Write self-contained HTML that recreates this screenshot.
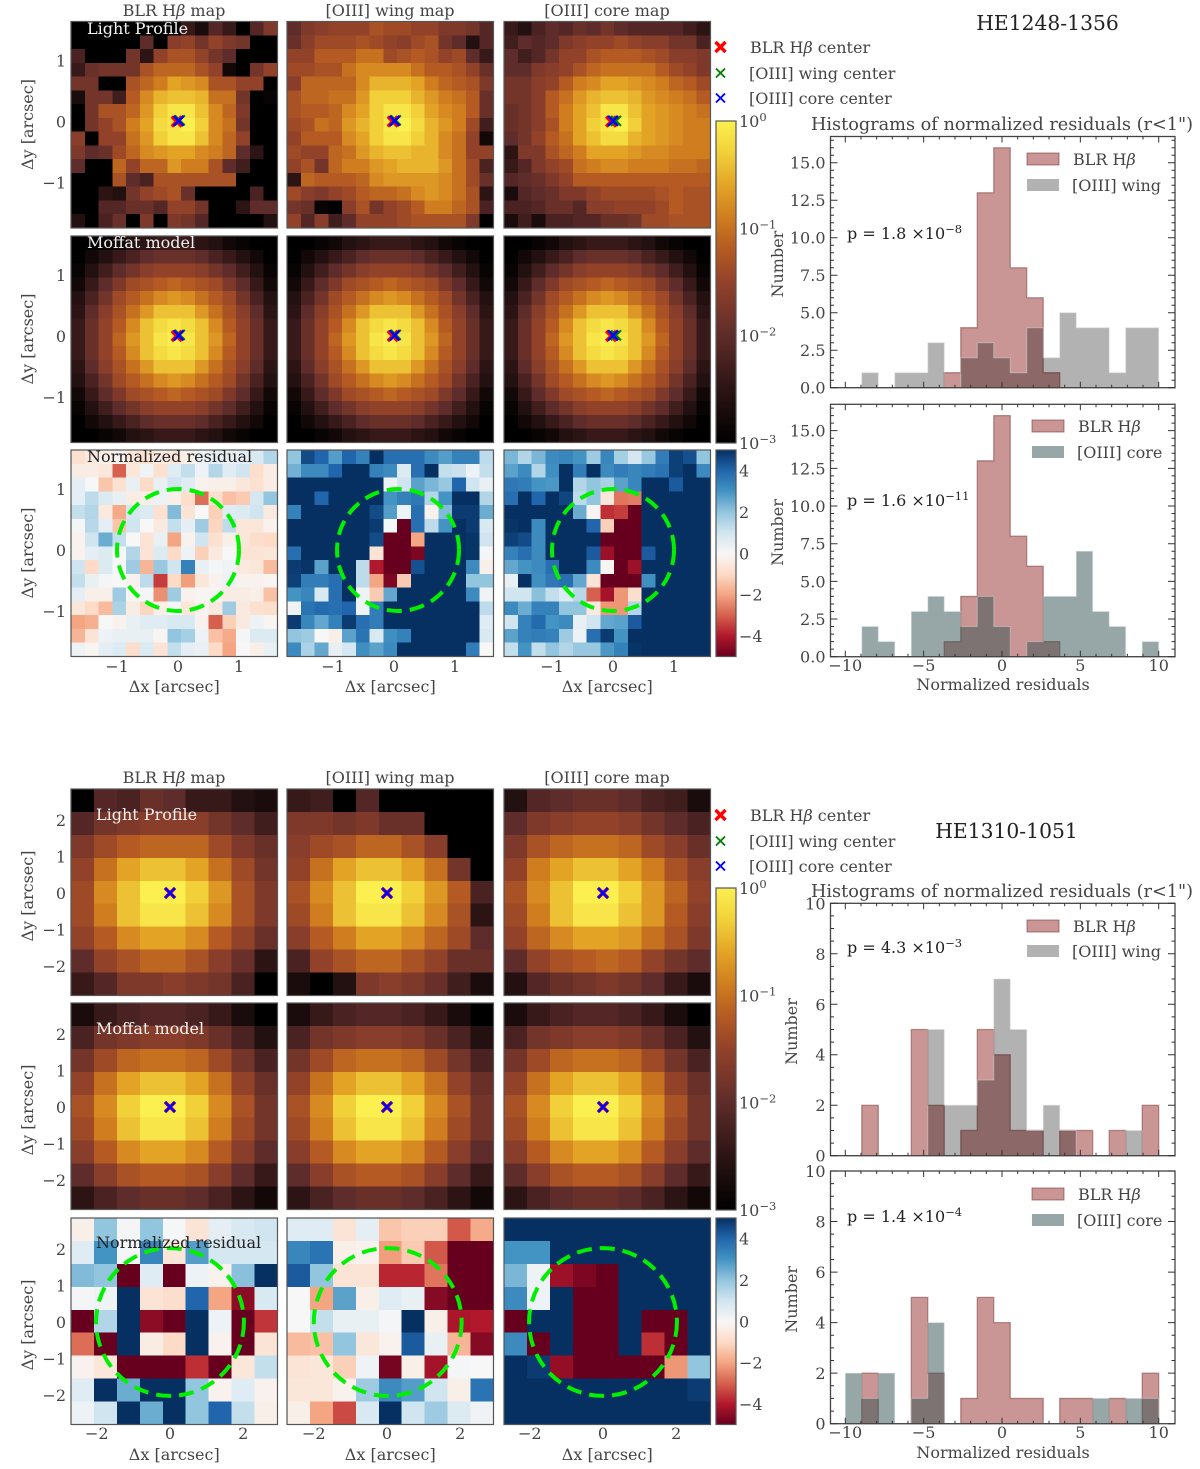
<!DOCTYPE html>
<html lang="en">
<head>
<meta charset="utf-8">
<title>HE1248-1356 and HE1310-1051 light profile maps and residual histograms</title>
<style>
  html, body { margin: 0; padding: 0; background: #fff; }
  svg { display: block; filter: blur(0.35px); }
  text { font-family: "DejaVu Serif", "Liberation Serif", serif; fill: #444; font-size: 16px; }
  .cell { shape-rendering: crispEdges; }
  .dark { fill: #222; }
</style>
</head>
<body>
<svg id="figure" xmlns="http://www.w3.org/2000/svg" width="1200" height="1469" viewBox="0 0 1200 1469">
  <rect width="1200" height="1469" fill="#fff"/>
  <defs id="defs"></defs>

  <g>
    <text x="174" y="16" text-anchor="middle">BLR H<tspan font-style="italic">β</tspan> map</text>
    <text x="390" y="16" text-anchor="middle">[OIII] wing map</text>
    <text x="607" y="16" text-anchor="middle">[OIII] core map</text>
    <text x="1047.5" y="30" text-anchor="middle" class="dark" style="font-size:20.3px">HE1248-1356</text>
    <text x="1002" y="130" text-anchor="middle" style="font-size:17.7px">Histograms of normalized residuals (r&lt;1")</text>
  </g>
  <g>
    <text x="174" y="783" text-anchor="middle">BLR H<tspan font-style="italic">β</tspan> map</text>
    <text x="390" y="783" text-anchor="middle">[OIII] wing map</text>
    <text x="607" y="783" text-anchor="middle">[OIII] core map</text>
    <text x="1006.5" y="838" text-anchor="middle" class="dark" style="font-size:20.3px">HE1310-1051</text>
    <text x="1002" y="897" text-anchor="middle" style="font-size:17.7px">Histograms of normalized residuals (r&lt;1")</text>
  </g>

  <g id="heatmaps"></g>
  <g id="colorbars"></g>
  <g id="histograms"></g>
  <g id="annotations"></g>
</svg>

<script>
/* ---------- flux maps: log10(flux) x 10, 0 = peak, -30 = floor ---------- */
const blrMapA = [
[-30,-30,-30,-30,-30,-30,-30,-30,-24,-27,-21,-24,-30,-21,-17],
[-30,-30,-30,-30,-30,-20,-30,-16,-15,-18,-15,-17,-18,-30,-30],
[-22,-30,-30,-30,-18,-25,-15,-13,-13,-15,-18,-20,-30,-30,-30],
[-24,-19,-18,-18,-18,-13,-11,-11,-11,-13,-15,-28,-30,-18,-15],
[-18,-18,-30,-30,-13,-11,-9,-6,-7,-8,-13,-13,-15,-15,-30],
[-27,-18,-18,-23,-12,-8,-5,-4,-4,-5,-10,-10,-18,-30,-29],
[-30,-18,-13,-13,-11,-7,-3,-1,-1,-4,-8,-11,-17,-30,-30],
[-30,-18,-15,-13,-9,-6,-2,-1,0,-3,-8,-10,-18,-30,-30],
[-16,-30,-15,-15,-10,-7,-3,-1,-1,-4,-8,-11,-15,-30,-30],
[-17,-20,-19,-14,-11,-8,-7,-6,-6,-8,-9,-11,-20,-25,-30],
[-20,-30,-30,-11,-15,-11,-11,-7,-9,-9,-13,-20,-23,-30,-30],
[-30,-30,-30,-13,-20,-22,-13,-13,-13,-13,-13,-13,-30,-30,-30],
[-30,-30,-25,-26,-18,-15,-14,-13,-19,-30,-30,-30,-30,-22,-30],
[-30,-30,-21,-21,-19,-19,-21,-15,-15,-18,-30,-30,-25,-20,-20],
[-26,-30,-22,-19,-30,-17,-30,-17,-18,-21,-30,-30,-30,-30,-26]];
const wingMapA = [
[-20,-17,-16,-15,-15,-15,-13,-14,-14,-15,-15,-17,-17,-18,-21],
[-19,-16,-14,-14,-14,-13,-14,-15,-16,-14,-13,-18,-20,-26,-21],
[-15,-15,-12,-12,-12,-10,-10,-14,-13,-12,-13,-15,-14,-20,-24],
[-14,-14,-13,-13,-10,-8,-8,-8,-8,-10,-12,-12,-13,-15,-19],
[-16,-11,-11,-11,-11,-8,-5,-5,-5,-6,-9,-11,-12,-13,-17],
[-13,-11,-11,-10,-10,-7,-3,-3,-3,-5,-7,-9,-10,-12,-19],
[-13,-12,-12,-11,-8,-6,-3,-1,-1,-3,-6,-8,-9,-12,-19],
[-14,-13,-10,-11,-7,-5,-3,-0.5,0,-2,-5,-7,-9,-14,-23],
[-15,-12,-12,-12,-8,-6,-3,-1,-1,-3,-5,-8,-10,-15,-28],
[-14,-15,-15,-11,-10,-7,-5,-4,-4,-5,-5,-8,-10,-15,-15],
[-15,-13,-18,-11,-9,-9,-7,-6,-5,-5,-5,-7,-10,-14,-22],
[-25,-11,-12,-12,-12,-11,-8,-7,-7,-7,-7,-8,-10,-14,-19],
[-14,-16,-17,-15,-14,-12,-11,-11,-10,-8,-7,-8,-10,-13,-25],
[-18,-19,-29,-30,-16,-13,-18,-15,-14,-12,-9,-9,-11,-13,-22],
[-15,-21,-16,-23,-20,-15,-15,-15,-14,-13,-13,-13,-13,-17,-30]];
const coreMapA = [
[-24,-26,-22,-20,-21,-19,-20,-18,-20,-21,-21,-21,-21,-23,-25],
[-23,-20,-21,-20,-17,-16,-15,-15,-14,-15,-16,-16,-18,-18,-22],
[-20,-23,-21,-18,-15,-15,-13,-12,-12,-12,-13,-14,-16,-16,-17],
[-20,-20,-17,-16,-15,-13,-11,-10,-10,-10,-10,-12,-14,-15,-17],
[-18,-18,-16,-15,-12,-9,-8,-6,-6,-7,-8,-9,-11,-12,-14],
[-18,-18,-16,-12,-10,-7,-5,-4,-4,-5,-7,-8,-9,-10,-12],
[-19,-18,-16,-12,-9,-6,-4,-1,-1,-4,-6,-7,-8,-9,-10],
[-19,-18,-16,-13,-9,-6,-3,-1,0,-3,-6,-7,-8,-9,-9],
[-20,-18,-15,-12,-10,-6,-4,-2,-2,-5,-6,-7,-8,-9,-9],
[-25,-17,-17,-13,-11,-9,-6,-6,-6,-7,-8,-8,-9,-9,-9],
[-24,-21,-17,-15,-14,-10,-9,-8,-8,-9,-9,-9,-10,-10,-11],
[-21,-20,-19,-17,-15,-12,-12,-12,-12,-12,-12,-12,-12,-12,-12],
[-27,-21,-20,-19,-17,-17,-15,-14,-14,-14,-14,-13,-12,-13,-13],
[-22,-22,-21,-19,-19,-21,-16,-16,-15,-15,-15,-14,-12,-13,-13],
[-27,-23,-27,-22,-22,-21,-21,-19,-19,-18,-14,-14,-13,-13,-13]];
const moffatMapA = [
[-30,-30,-29,-28,-26,-25,-24,-24,-24,-25,-26,-28,-29,-30,-30],
[-30,-28,-26,-24,-22,-20,-19,-19,-19,-20,-22,-24,-26,-28,-30],
[-29,-26,-23,-20,-18,-16,-15,-15,-15,-16,-18,-20,-23,-26,-29],
[-28,-24,-20,-17,-14,-13,-12,-11,-12,-13,-14,-17,-20,-24,-28],
[-26,-22,-18,-14,-12,-10,-8,-7,-8,-10,-12,-14,-18,-22,-26],
[-25,-20,-16,-13,-10,-7,-4,-4,-4,-7,-10,-13,-16,-20,-25],
[-24,-19,-15,-12,-8,-4,-2,-1,-2,-4,-8,-12,-15,-19,-24],
[-24,-19,-15,-11,-7,-4,-1,0,-1,-4,-7,-11,-15,-19,-24],
[-24,-19,-15,-12,-8,-4,-2,-1,-2,-4,-8,-12,-15,-19,-24],
[-25,-20,-16,-13,-10,-7,-4,-4,-4,-7,-10,-13,-16,-20,-25],
[-26,-22,-18,-14,-12,-10,-8,-7,-8,-10,-12,-14,-18,-22,-26],
[-28,-24,-20,-17,-14,-13,-12,-11,-12,-13,-14,-17,-20,-24,-28],
[-29,-26,-23,-20,-18,-16,-15,-15,-15,-16,-18,-20,-23,-26,-29],
[-30,-28,-26,-24,-22,-20,-19,-19,-19,-20,-22,-24,-26,-28,-30],
[-30,-30,-29,-28,-26,-25,-24,-24,-24,-25,-26,-28,-29,-30,-30]];

const blrMapB = [
[-30,-21,-22,-19,-20,-24,-24,-26,-27],
[-21,-18,-17,-16,-16,-16,-18,-20,-23],
[-17,-14,-12,-11,-11,-11,-14,-17,-19],
[-15,-10,-6,-4,-4,-6,-10,-14,-18],
[-14,-8,-4,0,0,-3,-7,-13,-17],
[-14,-9,-4,-1,-1,-4,-8,-13,-17],
[-15,-12,-8,-6,-6,-8,-12,-15,-19],
[-20,-15,-13,-11,-11,-13,-16,-19,-25],
[-24,-21,-17,-17,-16,-17,-18,-22,-30]];
const wingMapB = [
[-24,-23,-30,-21,-30,-30,-30,-30,-30],
[-17,-17,-18,-17,-19,-19,-30,-30,-30],
[-16,-14,-13,-11,-11,-13,-16,-30,-30],
[-15,-10,-6,-4,-4,-6,-10,-18,-30],
[-13,-8,-4,0,0,-3,-7,-12,-22],
[-14,-9,-4,-1,-1,-4,-8,-13,-25],
[-16,-12,-9,-6,-6,-8,-11,-14,-20],
[-22,-15,-13,-11,-11,-13,-15,-19,-19],
[-27,-30,-26,-17,-16,-17,-19,-23,-27]];
const coreMapB = [
[-26,-21,-20,-19,-19,-20,-22,-23,-27],
[-20,-17,-16,-15,-15,-16,-18,-20,-22],
[-17,-13,-11,-10,-10,-11,-14,-16,-19],
[-15,-9,-6,-4,-4,-6,-9,-13,-16],
[-13,-8,-4,0,0,-3,-7,-11,-15],
[-14,-9,-4,-1,-1,-4,-7,-12,-16],
[-15,-11,-8,-6,-6,-7,-10,-13,-17],
[-20,-15,-13,-12,-11,-12,-15,-18,-20],
[-26,-21,-19,-18,-17,-18,-20,-24,-27]];
const moffatMapB = [
[-27,-24,-22,-21,-21,-22,-24,-27,-30],
[-22,-18,-17,-16,-16,-17,-19,-22,-26],
[-18,-14,-11,-10,-10,-11,-14,-18,-22],
[-15,-10,-6,-4,-4,-6,-10,-15,-19],
[-13,-8,-3,0,0,-3,-8,-13,-18],
[-14,-9,-4,-1,-1,-4,-9,-14,-18],
[-16,-12,-8,-6,-6,-8,-12,-16,-20],
[-20,-16,-13,-12,-12,-13,-16,-20,-24],
[-25,-22,-20,-19,-19,-20,-22,-25,-28]];

/* ---------- normalized residual maps (clipped at +/-5) ---------- */
const blrResidA = [
[-0.8,-0.5,-0.3,-0.2,-0.6,-0.8,-0.4,-0.6,-0.3,0.3,0.5,0.4,0.5,0.8,1.5],
[-0.4,-0.4,-0.6,-3,-0.6,0.2,-0.8,0.6,1.2,0.3,1.5,0.6,1,-0.9,-0.4],
[0.5,0,-1.4,-0.8,0.4,-1,0.4,1,0.6,-0.2,-0.3,-0.3,-0.6,-0.8,-0.4],
[0.5,1.3,0.7,0.4,-0.4,-0.3,0.3,-0.3,-0.9,-2.8,-0.9,-1.5,-1.3,0.9,2],
[1.2,1.5,-0.5,-1.9,0.9,0.7,-0.8,2.2,-0.7,0,-1.2,0.6,0.7,1,-0.5],
[0.1,1.4,0.5,-1.4,1,0,-0.5,1.2,0.5,1.8,-1.1,1.3,-0.6,-0.6,-0.2],
[-0.2,1,2.5,1.2,0,-0.7,0.4,-2,-0.2,1,-0.8,-0.3,-0.6,-0.9,-1],
[-0.2,0.5,0.7,0,1.5,-0.7,0.7,-1,0.3,-1.2,-0.5,0,-0.7,-0.7,-0.6],
[1,-1,0.7,0,1.8,-1.7,1.9,1,3.4,0.4,0.1,0.2,-0.5,-0.6,-1.6],
[1.2,0.4,0.1,0,-0.2,1.3,-3.5,-1,-2.1,-0.6,-0.2,0.3,-0.2,-0.2,-0.1],
[0.5,-0.3,-0.3,1.8,-0.1,0.1,-2.3,1.8,-0.2,-0.1,-0.1,-0.4,-0.4,-0.3,-1.5],
[-0.6,-1,-1.6,1.6,-0.4,-1.1,-0.3,0.1,-0.6,-0.2,-0.5,1.8,-0.5,-0.8,-0.9],
[-2,-1.8,0,-0.2,0.4,0.6,0.6,0.8,0.8,-0.2,-3,-1.2,-0.5,0.3,-0.1],
[-1.7,-0.7,0.3,0.4,0.4,0.4,-0.1,2,1.7,0.3,-1.5,-1.9,0.1,0.7,0.7],
[0.3,-0.1,0.5,0.7,-0.9,0.7,-0.7,1.2,0.5,0.4,-1,-2,0,-0.3,0.4]];
const wingResidA = [
[2,4.5,4,2.8,4,3.4,5,3.8,3.8,3.8,3.2,2.8,3.4,3.4,1.3],
[2.4,3.2,3.2,4,5,5,3.4,3.2,0.7,3.8,5,1.2,1.1,0.3,1.2],
[5,5,5,5,5,5,5,0.3,1,2.7,2.3,1.9,4,1,0.4],
[5,5,4,5,5,5,5,3,3.4,3.6,1.5,3,5,5,1.5],
[3.4,5,5,5,5,5,4.5,2.8,0.3,3.8,-0.2,2.2,4.8,4.8,2.5],
[5,5,5,5,5,5,4.8,0.05,-5,3.8,1.3,3,5,4.8,0.8],
[5,5,5,5,5,5,4.5,-5,-5,-2,5,5,5,4.9,1],
[3.8,5,5,5,5,5,-0.7,-5,-5,-4.7,5,5,5,4.9,0.1],
[4.8,4.9,2.7,5,5,1.3,-4,-5,-5,4.4,5,5,5,3.2,-0.3],
[4.7,3.5,3.5,3.8,5,1.3,-2,-4.7,-1.3,5,5,5,5,2,2],
[3,3.3,0.8,3.8,5,0.2,-1.3,2.6,5,5,5,5,5,3.2,0.2],
[0.2,3.7,3.9,3.8,4,0.2,3.5,5,5,5,5,5,5,5,1.3],
[4.8,3.3,2.6,3.4,4.8,3.8,3.5,5,5,5,5,5,5,5,0.6],
[2,1.8,0,-0.3,2.7,3.7,0.8,3.1,3.4,5,5,5,5,5,0.8],
[3.2,1.6,2.6,0.4,0.9,3.1,2.7,3.2,5,5,5,5,5,3.5,0]];
const coreResidA = [
[2.3,1.5,2.3,3.2,3.3,3,1.8,3.3,1.7,0.9,1.9,3.5,4.7,4.4,2],
[2.7,3.2,1.5,3.1,5,3.5,5,3.2,3.5,3.3,3.5,3.7,4.7,5,3.2],
[3.6,3.5,3,2.9,5,1.5,2,1.6,2.7,3.3,5,5,4.2,5,5],
[3.8,5,4,5,4.6,1.3,2,-0.6,-2.7,-2.6,5,5,5,5,5],
[5,5,5,5,5,2.5,-0.1,-3.7,-3.5,-5,5,5,5,5,5],
[4.9,5,3.2,5,5,5,4,-1.2,-5,-5,5,5,5,5,5],
[4.7,4.5,3.2,5,5,5,5,-5,-5,-5,5,5,5,5,5],
[3.4,3.8,3.2,5,5,5,4.2,-4.3,-5,-5,4.2,5,5,5,5],
[2.6,3,3.2,3.8,5,5,3.2,-0.1,-5,-4.3,5,5,5,5,5],
[0.4,5,3.1,3.6,3.8,2.6,-0.7,-5,-5,-5,3.1,5,5,5,5],
[1,1,2.1,1.2,0.7,1.4,-3,-4.2,-2.2,-0.9,5,5,5,5,5],
[3.2,2.5,3.4,3.4,2,2,-0.5,-2.2,-2.2,1.5,5,5,5,5,5],
[1,3.4,3.9,3,3.2,0.4,1,2.6,2.7,4.2,5,5,5,5,5],
[2.7,3.4,3.5,3.4,1.8,0.3,3.8,4.8,3,5,5,5,5,5,5],
[1.2,3,1.2,2,1.5,1.9,1.9,2.9,3.4,4.9,5,5,5,5,5]];
const blrResidB = [
[-0.3,2,0.1,2,0.05,-0.7,0.5,0.8,1],
[0.6,3,0.1,3.3,-0.6,2.8,0.9,0.9,0.9],
[2.2,2,-5,0.6,-5,0.3,-0.2,2.1,5],
[0.1,0.2,5,-0.7,-0.9,4,-2,-4.5,0.8],
[-5,1.5,5,-4.5,-5,5,0.3,-5,-3.6],
[-2.8,-5,5,-0.4,-1,5,-0.2,-5,-0.7],
[-0.2,-0.6,-5,-5,-5,-3.7,-5,-0.6,1.2],
[0.6,5,2.5,5,5,2,-0.2,0.6,-0.2],
[0.3,1,5,2.5,5,2,4,1.2,-0.3]];
const wingResidB = [
[0.6,0.6,-0.7,0.5,-1.4,-1.2,-1.2,-3.1,-1.9],
[3.3,3.7,-0.3,-0.2,-2.1,-1.3,-3.1,-5,-5],
[4.2,2,-0.7,-0.7,-3.8,-3.8,-2.7,-5,-5],
[0,-2,2.7,-0.3,0.6,0.4,-4.6,-5,-5],
[0,1.2,0.4,0.4,0.1,5,-0.3,-4.1,-4],
[-1.6,-1.5,2,-0.6,-0.2,4.2,0.4,-1.7,-4.6],
[-0.7,-0.6,-1.2,0.2,-4.8,-0.3,-4.2,0.1,0],
[-0.6,-0.6,-0.2,1.8,3.2,2.8,1,-0.3,3.7],
[-0.3,-2,-3.3,0.8,5,1,1.8,0.7,0.2]];
const coreResidB = [
[5,5,5,5,5,5,5,5,5],
[3,3,5,5,5,5,5,5,5],
[2.3,0.3,-4.3,-4.7,-5,5,5,5,5],
[3.2,0.3,5,-5,-5,5,5,5,5],
[-5,5,5,-5,-5,5,-5,-5,5],
[3.2,-5,5,-5,-5,5,-3.7,-5,5],
[5,4.8,-4.4,-5,-5,-5,-5,-2.2,2],
[5,5,5,5,5,5,5,5,4.8],
[5,5,5,5,5,5,5,5,5]];

/* ---------- histogram counts (19 bins from -10 to 10) ---------- */
const histBlrA  = [0,0,0,0,0,0,1,4,13,16,8,6,1,0,0,0,0,0,0];
const histWingA = [0,1,0,1,1,3,0,2,3,2,1,4,2,5,4,4,1,4,4];
const histCoreA = [0,2,1,0,3,4,3,2,4,2,0,1,4,4,7,3,2,0,1];
const histBlrB  = [0,2,0,0,5,2,0,1,5,4,1,1,0,1,1,0,1,0,2];
const histWingB = [0,0,0,0,0,5,2,2,3,7,5,1,2,1,0,0,0,1,0];
const histCoreB = [2,1,2,0,1,4,0,0,0,0,0,0,0,0,0,1,0,1,1];

/* ---------- tick values and labels ---------- */
const mapTicksA = [-1, 0, 1];
const mapTicksB = [-2, -1, 0, 1, 2];
const mapXTicksB = [-2, 0, 2];
const histXTicks = [-10, -5, 0, 5, 10];
const histYTicksA = [0, 2.5, 5, 7.5, 10, 12.5, 15];
const histYLabelsA = ['0.0', '2.5', '5.0', '7.5', '10.0', '12.5', '15.0'];
const histYTicksB = [0, 2, 4, 6, 8, 10];
const histYLabelsB = ['0', '2', '4', '6', '8', '10'];
const residCbarTicks = [-4, -2, 0, 2, 4];
const fluxCbarTicks = [0, -1, -2, -3];

/* ---------- fitted centres, arcsec ---------- */
const centersA = [[-0.02, 0, 0.03, 0.02, 0.01, 0.01], [-0.02, 0, 0.03, 0.02, 0.01, 0.01], [-0.03, 0, 0.05, 0.01, 0, 0.01]];
const centersB = [[0, 0, 0, 0, 0, 0], [0, 0, 0, 0, 0, 0], [0, 0, 0, 0, 0, 0]];
const apertureA = [0, 0.066, 0];
const apertureB = [0, 0.02, 0];
const apertureRadiusA = 1;
const apertureRadiusB = 2.02;

/* ---------- figure layout ---------- */
const SVGNS = 'http://www.w3.org/2000/svg';
const heatRoot = document.getElementById('heatmaps');
const cbarRoot = document.getElementById('colorbars');
const histRoot = document.getElementById('histograms');
const noteRoot = document.getElementById('annotations');
const defsRoot = document.getElementById('defs');

const fluxStops = [[-30,'#000000'],[-25,'#2c1414'],[-20,'#5e2c2a'],[-15,'#93422a'],[-12,'#b45a22'],[-9,'#cf7d1f'],[-6,'#e3a426'],[-3,'#f1d03a'],[0,'#fbf050']];
const residStops = [[-5,'#67001f'],[-4,'#b2182b'],[-3,'#d6604d'],[-2,'#f4a582'],[-1,'#fddbc7'],[0,'#f7f7f7'],[1,'#d1e5f0'],[2,'#92c5de'],[3,'#4393c3'],[4,'#2166ac'],[5,'#053061']];

function hexRgb(h) { return [1, 3, 5].map(function (i) { return parseInt(h.substr(i, 2), 16); }); }
function colormap(stops, v) {
  if (v <= stops[0][0]) return stops[0][1];
  for (let i = 1; i < stops.length; i++) {
    if (v <= stops[i][0]) {
      const t = (v - stops[i - 1][0]) / (stops[i][0] - stops[i - 1][0]);
      const a = hexRgb(stops[i - 1][1]), b = hexRgb(stops[i][1]);
      return 'rgb(' + a.map(function (c, k) { return Math.round(c + (b[k] - c) * t); }).join(',') + ')';
    }
  }
  return stops[stops.length - 1][1];
}
function mk(parent, tag) {
  const el = document.createElementNS(SVGNS, tag);
  parent.appendChild(el);
  return el;
}
function put(el, props) {
  Object.keys(props).forEach(function (k) { el.setAttribute(k, props[k]); });
  return el;
}
function label(parent, x, y, str, anchor, rotate) {
  const t = mk(parent, 'text');
  put(t, { x: x, y: y, 'text-anchor': anchor || 'middle' });
  if (rotate) t.setAttribute('transform', 'rotate(-90 ' + x + ' ' + y + ')');
  t.textContent = str;
  return t;
}
function num(v) { return String(v).replace('-', '\u2212'); }

const blockA = {
  colX: [71, 287, 504], zeroX: [178, 394, 613],
  rowY: [21.5, 236, 450], zeroY: [121.5, 336, 550],
  size: 206.5, scale: 61,
  yTicks: mapTicksA, xTicks: mapTicksA,
  maps: [[blrMapA, wingMapA, coreMapA], [moffatMapA, moffatMapA, moffatMapA], [blrResidA, wingResidA, coreResidA]],
  centers: centersA, aperture: apertureA, radius: apertureRadiusA,
  xTickBase: 672, xLabelBase: 692, labelX: 87, labelBase: [34, 248, 462],
  cbarFlux: [121, 443], cbarResid: [450, 656.5],
  legendY: [47, 73, 98]
};
const blockB = {
  colX: [71, 287, 504], zeroX: [170, 387, 603],
  rowY: [789, 1003, 1218], zeroY: [893, 1107, 1322],
  size: 206.5, scale: 36.6,
  yTicks: mapTicksB, xTicks: mapXTicksB,
  maps: [[blrMapB, wingMapB, coreMapB], [moffatMapB, moffatMapB, moffatMapB], [blrResidB, wingResidB, coreResidB]],
  centers: centersB, aperture: apertureB, radius: apertureRadiusB,
  xTickBase: 1439, xLabelBase: 1460, labelX: 96, labelBase: [820, 1034, 1248],
  cbarFlux: [888, 1210], cbarResid: [1218, 1424.5],
  legendY: [815, 841, 866]
};
const panelTexts = [['Light Profile', '#f2f2f2'], ['Moffat model', '#f2f2f2'], ['Normalized residual', '#222']];

function drawBlock(b) {
  b.rowY.forEach(function (rowTop, r) {
    b.colX.forEach(function (colLeft, c) {
      const matrix = b.maps[r][c];
      const n = matrix.length;
      const cell = b.size / n;
      const isResid = r === 2;
      const g = mk(heatRoot, 'g');
      
      
      matrix.forEach(function (row, i) {
        row.forEach(function (v, j) {
          const rc = mk(g, 'rect');
          put(rc, {
            class: 'cell',
            x: (colLeft + j * cell).toFixed(2), y: (rowTop + i * cell).toFixed(2),
            width: (cell + 0.3).toFixed(2), height: (cell + 0.3).toFixed(2),
            fill: isResid ? colormap(residStops, v) : colormap(fluxStops, v)
          });
          
          
        });
      });
      const frame = mk(g, 'rect');
      put(frame, { x: colLeft, y: rowTop, width: b.size, height: b.size, fill: 'none', stroke: '#555', 'stroke-width': 1.2 });
      
      

      const xOf = function (v) { return b.zeroX[c] + v * b.scale; };
      const yOf = function (v) { return b.zeroY[r] - v * b.scale; };

      if (isResid) {
        const ap = mk(g, 'circle');
        put(ap, { cx: xOf(b.aperture[c]), cy: yOf(0), r: b.radius * b.scale, fill: 'none', stroke: '#00f000', 'stroke-width': 4, 'stroke-dasharray': '15 8' });
        
        
      } else {
        const m = b.centers[c];
        [[m[0], m[1], '#ff0000', 3.4], [m[2], m[3], '#008000', 2], [m[4], m[5], '#0000ff', 2.6]].forEach(function (d) {
          const cx = xOf(d[0]), cy = yOf(d[1]);
          const mark = mk(g, 'path');
          put(mark, { d: 'M' + (cx - 5) + ' ' + (cy - 5) + 'L' + (cx + 5) + ' ' + (cy + 5) + 'M' + (cx - 5) + ' ' + (cy + 5) + 'L' + (cx + 5) + ' ' + (cy - 5), stroke: d[2], 'stroke-width': d[3], fill: 'none' });
          
          
        });
      }

      if (c === 0) {
        b.yTicks.forEach(function (v) {
          const t = label(g, 66, yOf(v) + 6, num(v), 'end');
          
          
        });
        const yl = label(g, 33, b.zeroY[r] + 3, '\u0394y [arcsec]', 'middle', true);
        
        
        const pt = label(g, b.labelX, b.labelBase[r], panelTexts[r][0], 'start');
        pt.style.fill = panelTexts[r][1];
        
        
      }
      if (isResid) {
        b.xTicks.forEach(function (v) {
          const t = label(g, xOf(v), b.xTickBase, num(v));
          
          
        });
        const xl = label(g, colLeft + b.size / 2, b.xLabelBase, '\u0394x [arcsec]');
        
        
      }
    });
  });
  drawColorbars(b);
  drawLegend(b);
}

function gradient(id, stops, lo, hi) {
  const gr = mk(defsRoot, 'linearGradient');
  put(gr, { id: id, x1: 0, y1: 1, x2: 0, y2: 0 });
  stops.forEach(function (s) {
    const st = mk(gr, 'stop');
    put(st, { offset: (s[0] - lo) / (hi - lo), 'stop-color': s[1] });
  });
}
gradient('fluxGrad', fluxStops, -30, 0);
gradient('residGrad', residStops, -5, 5);

function drawColorbars(b) {
  const x = 716, w = 20;
  const fy = b.cbarFlux, ry = b.cbarResid;
  const fBar = mk(cbarRoot, 'rect');
  put(fBar, { x: x, y: fy[0], width: w, height: fy[1] - fy[0], fill: 'url(#fluxGrad)', stroke: '#555', 'stroke-width': 1.2 });
  
  
  const rBar = mk(cbarRoot, 'rect');
  put(rBar, { x: x, y: ry[0], width: w, height: ry[1] - ry[0], fill: 'url(#residGrad)', stroke: '#555', 'stroke-width': 1.2 });
  
  

  const fY = function (d) { return fy[0] + (0 - d) / 3 * (fy[1] - fy[0]); };
  const rY = function (v) { return (ry[0] + ry[1]) / 2 - v / 10 * (ry[1] - ry[0]); };

  fluxCbarTicks.forEach(function (d) {
    const t = label(cbarRoot, 739, fY(d) + 6, '10', 'start');
    const sup = mk(t, 'tspan');
    put(sup, { dy: -6, style: 'font-size:11.5px' });
    sup.textContent = num(d);
    
    
  });
  residCbarTicks.forEach(function (v) {
    const t = label(cbarRoot, 739, rY(v) + 6, num(v), 'start');
    
    
  });
}

function drawLegend(b) {
  const entries = [['BLR H', '#ff0000', 3.4, 5, 750], ['[OIII] wing center', '#008000', 1.9, 4.5, 749], ['[OIII] core center', '#0000ff', 1.9, 4.5, 749]];
  entries.forEach(function (e, i) {
    const y = b.legendY[i], cx = 720.5, s = e[3];
    const mark = mk(noteRoot, 'path');
    put(mark, { d: 'M' + (cx - s) + ' ' + (y - s) + 'L' + (cx + s) + ' ' + (y + s) + 'M' + (cx - s) + ' ' + (y + s) + 'L' + (cx + s) + ' ' + (y - s), stroke: e[1], 'stroke-width': e[2], fill: 'none' });
    
    
    const t = label(noteRoot, e[4], y + 6, e[0], 'start');
    
    
    if (i === 0) {
      const it = mk(t, 'tspan');
      put(it, { 'font-style': 'italic' });
      it.textContent = '\u03b2';
      const rest = mk(t, 'tspan');
      rest.textContent = ' center';
    }
  });
}

/* ---------- histograms ---------- */
const HIST_X = { left: 830.5, right: 1175, zero: 1002, unit: 15.67 };
const BIN_COUNT = 19, BIN_MIN = -10, BIN_MAX = 10;
function hx(v) { return HIST_X.zero + v * HIST_X.unit; }

function stepPath(counts, yOf) {
  const w = (BIN_MAX - BIN_MIN) / BIN_COUNT;
  let d = 'M' + hx(BIN_MIN).toFixed(2) + ' ' + yOf(0);
  counts.forEach(function (c, i) {
    const a = hx(BIN_MIN + i * w).toFixed(2), z = hx(BIN_MIN + (i + 1) * w).toFixed(2), y = yOf(c).toFixed(2);
    d += 'L' + a + ' ' + y + 'L' + z + ' ' + y;
  });
  return d + 'L' + hx(BIN_MAX).toFixed(2) + ' ' + yOf(0) + 'Z';
}

const COLOR_BLR = { fill: 'rgba(147,45,43,0.5)', stroke: 'rgba(110,40,40,0.45)' };
const COLOR_WING = { fill: 'rgba(0,0,0,0.3)', stroke: 'rgba(220,220,220,0.5)' };
const COLOR_CORE = { fill: 'rgba(47,79,79,0.5)', stroke: 'rgba(220,230,230,0.4)' };

function drawHist(h) {
  const g = mk(histRoot, 'g');
  
  
  const pxPerUnit = (h.bottom - h.top) / h.yMax;
  const yOf = function (v) { return h.bottom - v * pxPerUnit; };

  const a = mk(g, 'path');
  put(a, { d: stepPath(h.blr, yOf), fill: COLOR_BLR.fill, stroke: COLOR_BLR.stroke, 'stroke-width': 1.3 });
  
  
  const o = mk(g, 'path');
  put(o, { d: stepPath(h.other, yOf), fill: h.color.fill, stroke: h.color.stroke, 'stroke-width': 1 });
  
  

  const frame = mk(g, 'rect');
  put(frame, { x: HIST_X.left, y: h.top, width: HIST_X.right - HIST_X.left, height: h.bottom - h.top, fill: 'none', stroke: '#444', 'stroke-width': 1.3 });
  
  

  let tickPath = '';
  for (let v = -10; v <= 10; v += 1) {
    const len = v % 5 === 0 ? 6 : 3;
    const x = hx(v).toFixed(2);
    tickPath += 'M' + x + ' ' + h.bottom + 'v-' + len + 'M' + x + ' ' + h.top + 'v' + len;
  }
  for (let v = 0; v <= h.yMax + 0.001; v += h.yMinor) {
    const major = Math.abs(v / h.yMajor - Math.round(v / h.yMajor)) < 0.001;
    const len = major ? 7 : 3.5;
    const y = yOf(v).toFixed(2);
    tickPath += 'M' + HIST_X.left + ' ' + y + 'h' + len + 'M' + HIST_X.right + ' ' + y + 'h-' + len;
  }
  const ticks = mk(g, 'path');
  put(ticks, { d: tickPath, stroke: '#333', 'stroke-width': 1, fill: 'none' });
  
  

  h.yTicks.forEach(function (v, i) {
    const t = label(g, 825.5, yOf(v) + 6, h.yLabels[i], 'end');
    
    
  });
  const yt = label(g, h.yTitleX, (h.top + h.bottom) / 2 + 2, 'Number', 'middle', true);
  
  

  if (h.xTickBase) {
    histXTicks.forEach(function (v) {
      const t = label(g, hx(v), h.xTickBase, num(v));
      
      
    });
    const xt = label(g, 1003, h.xLabelBase, 'Normalized residuals');
    
    
  }

  const pT = label(g, 847, h.pBase, 'p = ' + h.p + ' \u00d710', 'start');
  pT.classList.add('dark');
  const pSup = mk(pT, 'tspan');
  put(pSup, { dy: -6, style: 'font-size:11.5px' });
  pSup.textContent = '\u2212' + h.pExp;
  
  

  const sw1 = mk(g, 'rect');
  put(sw1, { x: h.legX, y: h.legY[0] - 6, width: 32, height: 12, fill: COLOR_BLR.fill, stroke: COLOR_BLR.stroke, 'stroke-width': 1.2 });
  
  
  const sw2 = mk(g, 'rect');
  put(sw2, { x: h.legX, y: h.legY[1] - 6, width: 32, height: 12, fill: h.color.fill });
  
  
  const l1 = label(g, h.legX + 46, h.legY[0] + 6, 'BLR H', 'start');
  const beta = mk(l1, 'tspan');
  put(beta, { 'font-style': 'italic' });
  beta.textContent = '\u03b2';
  
  
  const l2 = label(g, h.legX + 45, h.legY[1] + 6, h.otherName, 'start');
  
  
}

drawBlock(blockA);
drawBlock(blockB);

drawHist({ top: 136.5, bottom: 387.7, yMax: 16.75, yMajor: 2.5, yMinor: 0.5, yTicks: histYTicksA, yLabels: histYLabelsA, yTitleX: 783, blr: histBlrA, other: histWingA, color: COLOR_WING, otherName: '[OIII] wing', p: '1.8', pExp: '8', pBase: 239, legX: 1027, legY: [159, 185] });
drawHist({ top: 404.3, bottom: 656.7, yMax: 16.75, yMajor: 2.5, yMinor: 0.5, yTicks: histYTicksA, yLabels: histYLabelsA, yTitleX: 783, blr: histBlrA, other: histCoreA, color: COLOR_CORE, otherName: '[OIII] core', p: '1.6', pExp: '11', pBase: 506, legX: 1032, legY: [426, 452], xTickBase: 671, xLabelBase: 690 });
drawHist({ top: 903.3, bottom: 1155.7, yMax: 10, yMajor: 2, yMinor: 0.5, yTicks: histYTicksB, yLabels: histYLabelsB, yTitleX: 797, blr: histBlrB, other: histWingB, color: COLOR_WING, otherName: '[OIII] wing', p: '4.3', pExp: '3', pBase: 953, legX: 1027, legY: [926, 951] });
drawHist({ top: 1171, bottom: 1423.7, yMax: 10, yMajor: 2, yMinor: 0.5, yTicks: histYTicksB, yLabels: histYLabelsB, yTitleX: 797, blr: histBlrB, other: histCoreB, color: COLOR_CORE, otherName: '[OIII] core', p: '1.4', pExp: '4', pBase: 1222, legX: 1032, legY: [1194, 1220], xTickBase: 1438, xLabelBase: 1458 });
</script>
</body>
</html>
